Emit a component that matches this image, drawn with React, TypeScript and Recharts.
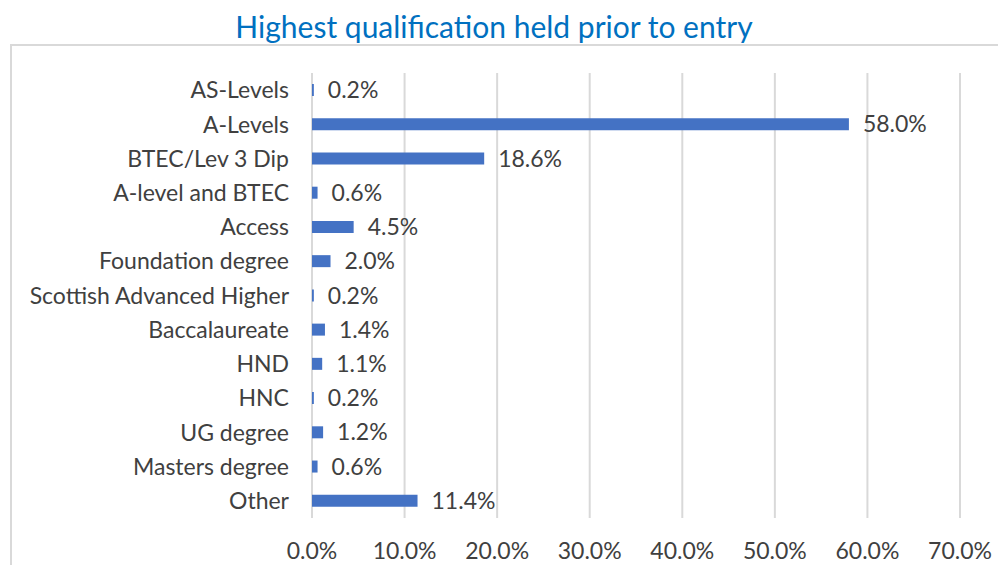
import { BarChart, Bar, XAxis, YAxis, CartesianGrid, LabelList } from "recharts";

const QUALIFICATIONS = [
  "AS-Levels",
  "A-Levels",
  "BTEC/Lev 3 Dip",
  "A-level and BTEC",
  "Access",
  "Foundation degree",
  "Scottish Advanced Higher",
  "Baccalaureate",
  "HND",
  "HNC",
  "UG degree",
  "Masters degree",
  "Other",
];

const SHARE = [0.002, 0.58, 0.186, 0.006, 0.045, 0.02, 0.002, 0.014, 0.011, 0.002, 0.012, 0.006, 0.114];

const X_TICKS = [0, 0.1, 0.2, 0.3, 0.4, 0.5, 0.6, 0.7];

const FONT = "Lato, sans-serif";
const TEXT = "#404040";

const rows = QUALIFICATIONS.map((name, i) => ({ name, value: SHARE[i] }));

const pct = (v: unknown) => `${(Number(v) * 100).toFixed(1)}%`;

export default function App() {
  return (
    <div style={{ position: "relative", width: 1006, height: 573, overflow: "hidden", margin: -8, fontFamily: FONT }}>
      <div
        style={{
          position: "absolute",
          left: 10,
          top: 44,
          width: 1010,
          height: 560,
          border: "2px solid #d9d9d9",
        }}
      />
      <div
        style={{
          position: "absolute",
          top: 8,
          left: 0,
          width: 988,
          textAlign: "center",
          fontSize: 30,
          lineHeight: "36px",
          color: "#0070C0",
          fontFamily: FONT,
        }}
      >
        Highest qualification held prior to entry
      </div>
      <div style={{ position: "absolute", left: 0, top: 0 }}>
        <BarChart
          width={1006}
          height={573}
          data={rows}
          layout="vertical"
          margin={{ top: 73, right: 46, bottom: 25, left: 0 }}
        >
          <CartesianGrid horizontal={false} stroke="#d9d9d9" strokeWidth={2} />
          <XAxis
            type="number"
            domain={[0, 0.7]}
            ticks={X_TICKS}
            tickFormatter={pct}
            axisLine={false}
            tickLine={false}
            tickSize={0}
            tickMargin={25}
            height={30}
            tick={{ fontSize: 23, fill: TEXT, fontFamily: FONT }}
          />
          <YAxis
            type="category"
            dataKey="name"
            width={312}
            axisLine={false}
            tickLine={false}
            tickSize={0}
            tickMargin={23}
            interval={0}
            tick={{ fontSize: 23, fill: TEXT, fontFamily: FONT }}
          />
          <Bar dataKey="value" fill="#4472C4" barSize={12} isAnimationActive={false}>
            <LabelList
              dataKey="value"
              position="right"
              offset={14}
              formatter={pct}
              style={{ fontSize: 23, fill: TEXT, fontFamily: FONT }}
            />
          </Bar>
        </BarChart>
      </div>
    </div>
  );
}
